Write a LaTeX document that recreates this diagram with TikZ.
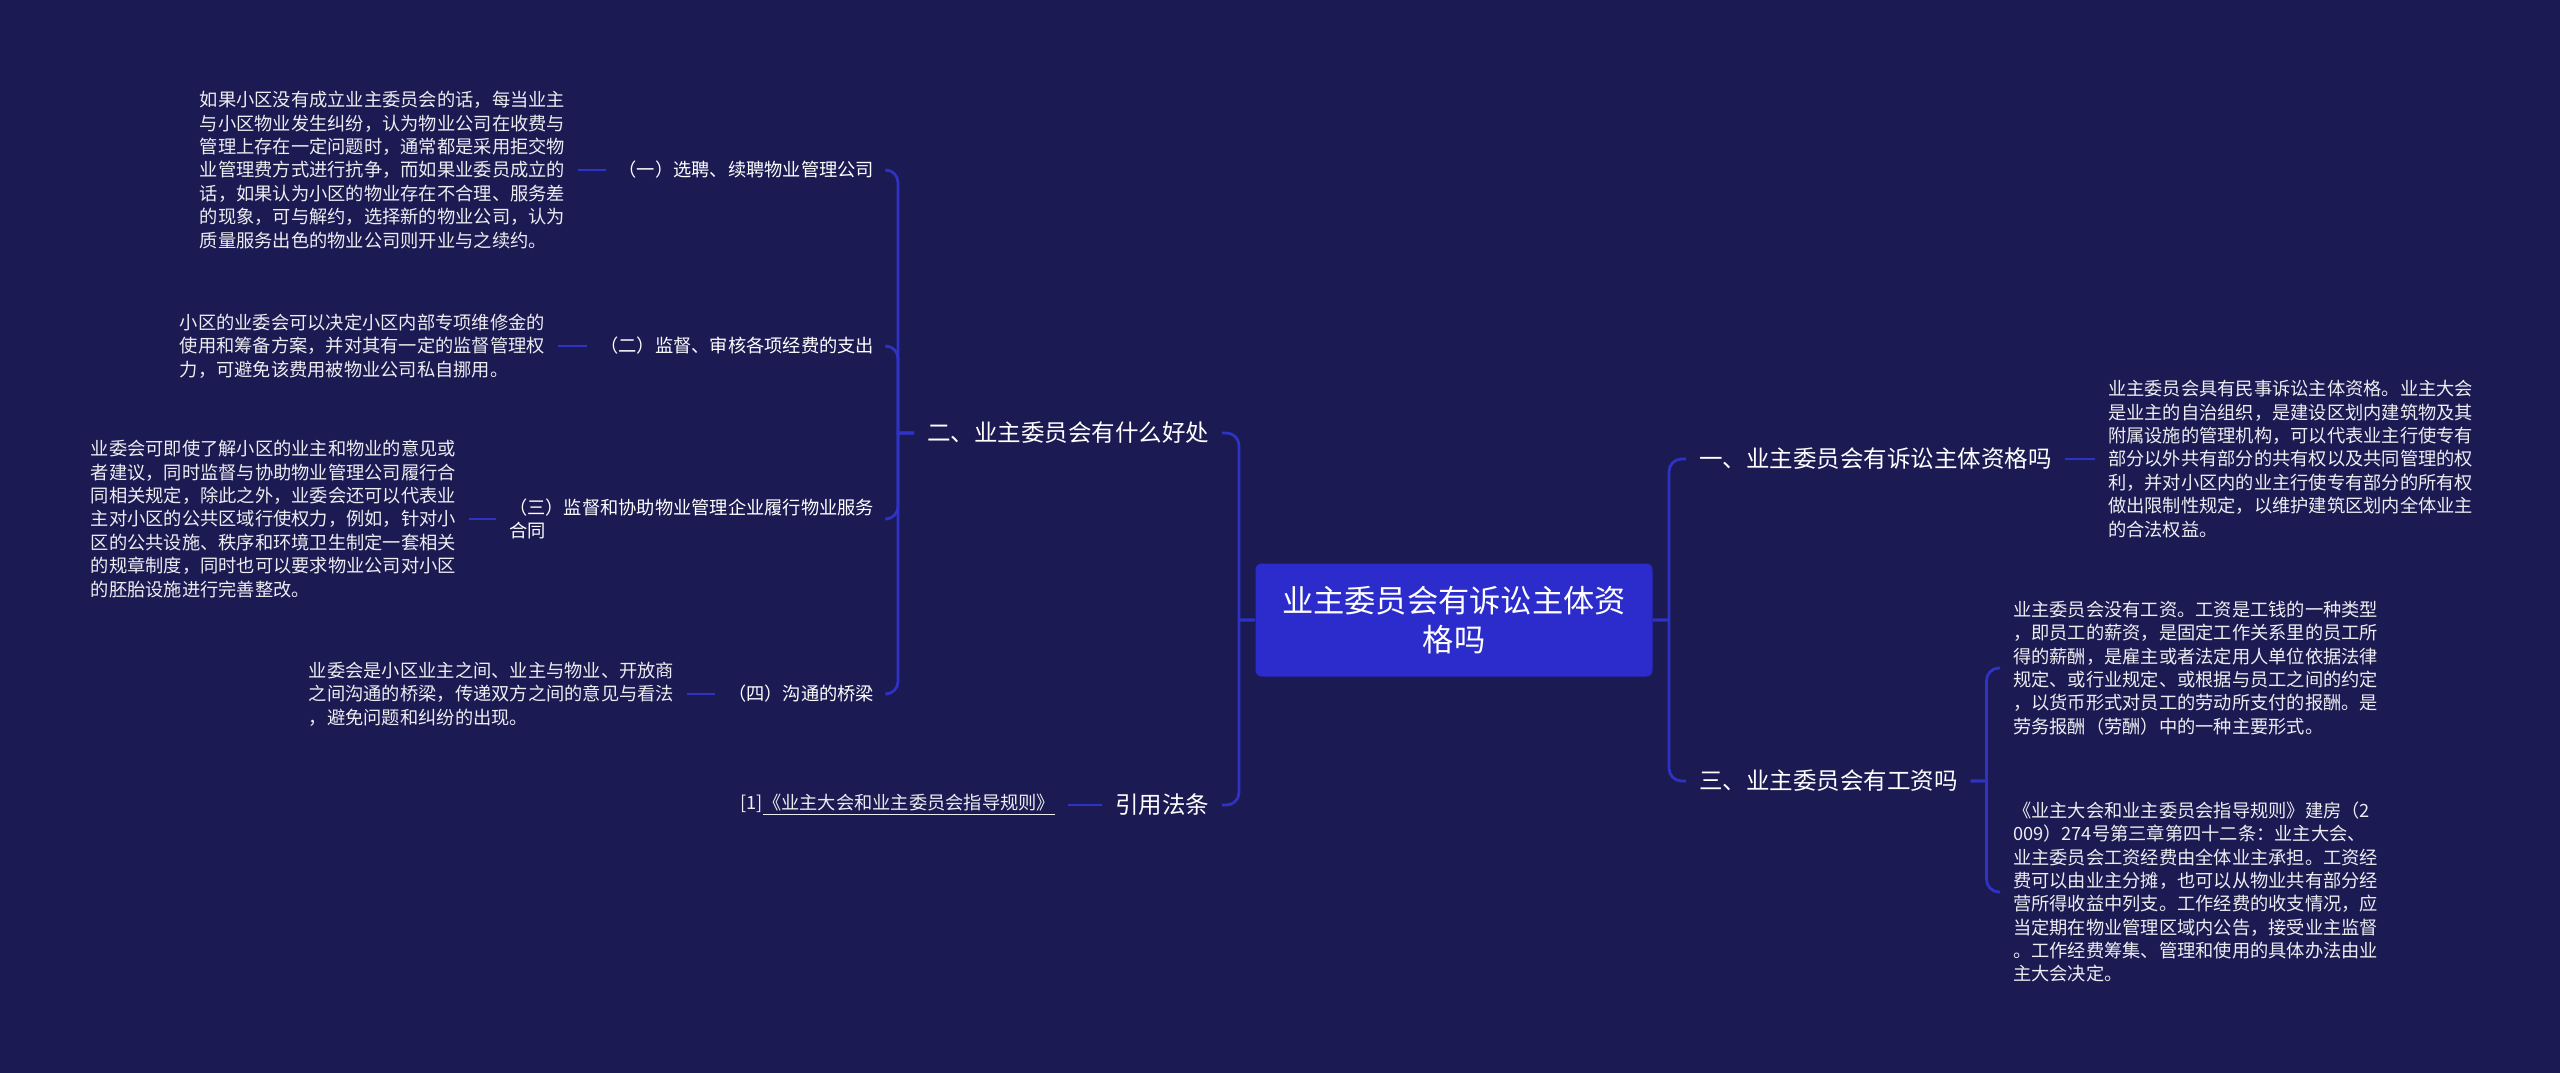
\documentclass[tikz,border=0pt]{standalone}
\usepackage{fontspec}
\setmainfont{Noto Sans CJK SC}
\definecolor{bgnavy}{HTML}{1C1A52}
\definecolor{accent}{HTML}{2B2CCB}
\definecolor{wire}{HTML}{2E33C6}
\tikzset{
  root/.style={fill=accent, rounded corners=2.5pt, minimum width=158.8pt,
               minimum height=45.2pt, align=center, text=white,
               font=\fontsize{12.5pt}{15.7pt}\selectfont},
  lone/.style={text=white, inner xsep=5pt, inner ysep=2pt,
               font=\fontsize{9.4pt}{11.5pt}\selectfont},             % first level
  ltwo/.style={text=white, inner xsep=5pt, inner ysep=2pt, align=left,
               font=\fontsize{7.3pt}{9.35pt}\selectfont},             % second level
  leaf/.style={ltwo, text=white!92!bgnavy},                           % long texts
  ln/.style={draw=wire, line width=1.1pt, rounded corners=5pt},       % connector
}

\begin{document}
\begin{tikzpicture}[x=0.4pt, y=-0.4pt]
  \useasboundingbox (0,0) rectangle (2560,1073);
  \fill[bgnavy] (0,0) rectangle (2560,1073);

  \node[root] (root) at (1454,620) {业主委员会有诉讼主体资\\格吗};

  % right side
  \node[lone, anchor=west] (q1) at (1686,459) {一、业主委员会有诉讼主体资格吗};
  \node[lone, anchor=west] (q3) at (1686,781) {三、业主委员会有工资吗};
  \node[leaf, anchor=west] (a1) at (2095,459) {业主委员会具有民事诉讼主体资格。业主大会\\
    是业主的自治组织，是建设区划内建筑物及其\\附属设施的管理机构，可以代表业主行使专有\\
    部分以外共有部分的共有权以及共同管理的权\\利，并对小区内的业主行使专有部分的所有权\\
    做出限制性规定，以维护建筑区划内全体业主\\的合法权益。};
  \node[leaf, anchor=west] (b1) at (2000,668) {业主委员会没有工资。工资是工钱的一种类型\\
    ，即员工的薪资，是固定工作关系里的员工所\\得的薪酬，是雇主或者法定用人单位依据法律\\
    规定、或行业规定、或根据与员工之间的约定\\，以货币形式对员工的劳动所支付的报酬。是\\
    劳务报酬（劳酬）中的一种主要形式。};
  \node[leaf, anchor=west] (b2) at (2000,892) {《业主大会和业主委员会指导规则》建房（2\\
    009）274号第三章第四十二条：业主大会、\\业主委员会工资经费由全体业主承担。工资经\\
    费可以由业主分摊，也可以从物业共有部分经\\营所得收益中列支。工作经费的收支情况，应\\
    当定期在物业管理区域内公告，接受业主监督\\。工作经费筹集、管理和使用的具体办法由业\\
    主大会决定。};

  % left side
  \node[lone, anchor=east] (q2) at (1222,433) {二、业主委员会有什么好处};
  \node[lone, anchor=east] (ref) at (1222,805) {引用法条};
  \node[ltwo, anchor=east] (p1) at (887,170) {（一）选聘、续聘物业管理公司};
  \node[ltwo, anchor=east] (p2) at (887,346) {（二）监督、审核各项经费的支出};
  \node[ltwo, anchor=east] (p3) at (887,519) {（三）监督和协助物业管理企业履行物业服务\\合同};
  \node[ltwo, anchor=east] (p4) at (887,694) {（四）沟通的桥梁};
  \node[leaf, anchor=east] (d1) at (578,170) {如果小区没有成立业主委员会的话，每当业主\\
    与小区物业发生纠纷，认为物业公司在收费与\\管理上存在一定问题时，通常都是采用拒交物\\
    业管理费方式进行抗争，而如果业委员成立的\\话，如果认为小区的物业存在不合理、服务差\\
    的现象，可与解约，选择新的物业公司，认为\\质量服务出色的物业公司则开业与之续约。};
  \node[leaf, anchor=east] (d2) at (558,346) {小区的业委会可以决定小区内部专项维修金的\\
    使用和筹备方案，并对其有一定的监督管理权\\力，可避免该费用被物业公司私自挪用。};
  \node[leaf, anchor=east] (d3) at (469,519) {业委会可即使了解小区的业主和物业的意见或\\
    者建议，同时监督与协助物业管理公司履行合\\同相关规定，除此之外，业委会还可以代表业\\
    主对小区的公共区域行使权力，例如，针对小\\区的公共设施、秩序和环境卫生制定一套相关\\
    的规章制度，同时也可以要求物业公司对小区\\的胚胎设施进行完善整改。};
  \node[leaf, anchor=east] (d4) at (687,694) {业委会是小区业主之间、业主与物业、开放商\\
    之间沟通的桥梁，传递双方之间的意见与看法\\，避免问题和纠纷的出现。};
  \node[leaf, anchor=east] (r1) at (1068,805) {[1]\underline{《业主大会和业主委员会指导规则》}};

  % branches
  \foreach \u/\v in {root/q1,root/q3,q3/b1,q3/b2}
    \draw[ln] (\u.east) -- ++(16,0) coordinate (j) (j) |- (\v.west);
  \foreach \u/\v in {root/q2,root/ref,q2/p1,q2/p2,q2/p3,q2/p4}
    \draw[ln] (\u.west) -- ++(-16,0) coordinate (j) (j) |- (\v.east);
  % single children, straight
  \draw[ln] (q1.east) -- (q1.east -| a1.west);
  \foreach \u/\v in {p1/d1,p2/d2,p3/d3,p4/d4,ref/r1}
    \draw[ln] (\u.west) -- (\u.west -| \v.east);
\end{tikzpicture}
\end{document}
